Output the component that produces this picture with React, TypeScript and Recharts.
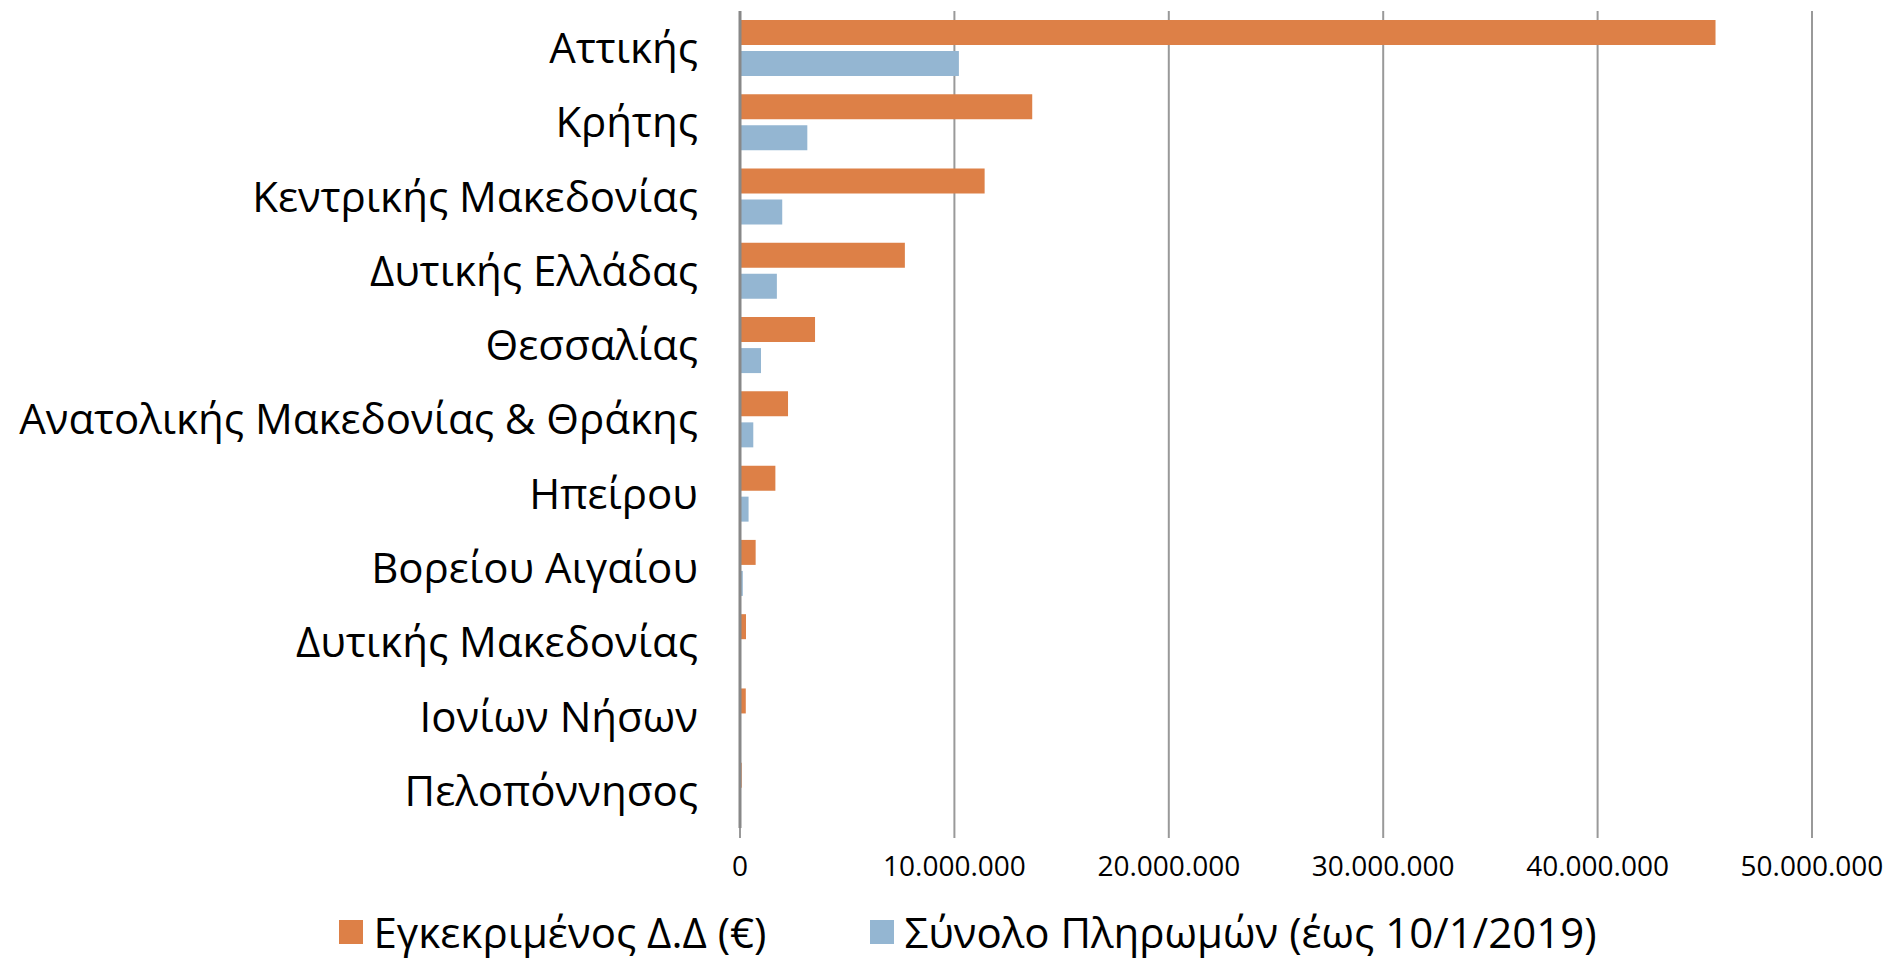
import React from "react";
import {
  BarChart,
  Bar,
  XAxis,
  YAxis,
  CartesianGrid,
  Legend,
} from "recharts";

// Regions, top to bottom
const regions = [
  "Αττικής",
  "Κρήτης",
  "Κεντρικής Μακεδονίας",
  "Δυτικής Ελλάδας",
  "Θεσσαλίας",
  "Ανατολικής Μακεδονίας & Θράκης",
  "Ηπείρου",
  "Βορείου Αιγαίου",
  "Δυτικής Μακεδονίας",
  "Ιονίων Νήσων",
  "Πελοπόννησος",
];

// Approved budget (€)
const approved = [
  45500000, 13630000, 11410000, 7690000, 3500000, 2240000, 1650000, 730000,
  280000, 270000, 80000,
];

// Total payments up to 10/1/2019 (€)
const payments = [
  10210000, 3140000, 1970000, 1720000, 980000, 620000, 400000, 130000, 0, 0,
  0,
];

const xTicks = [0, 10000000, 20000000, 30000000, 40000000, 50000000];

const seriesNames = ["Εγκεκριμένος Δ.Δ (€)", "Σύνολο Πληρωμών (έως 10/1/2019)"];
const seriesColors = ["#DD8047", "#94B6D2"];

const FONT = "'Open Sans', 'Noto Sans', sans-serif";

const data = regions.map((name, i) => ({
  name,
  approved: approved[i],
  payments: payments[i],
}));

// 10000000 -> 10.000.000
const fmt = (v: number) => String(v).replace(/\B(?=(\d{3})+(?!\d))/g, ".");

function LegendContent() {
  return (
    <div
      style={{
        display: "flex",
        justifyContent: "center",
        gap: 104,
        fontFamily: FONT,
        fontSize: 42,
        lineHeight: "56px",
        color: "#000",
        paddingLeft: 124,
        paddingTop: 10,
        whiteSpace: "nowrap",
      }}
    >
      {seriesNames.map((n, i) => (
        <div key={n} style={{ display: "flex", alignItems: "center" }}>
          <span
            style={{
              width: 24,
              height: 24,
              background: seriesColors[i],
              display: "inline-block",
              marginRight: 10,
            }}
          />
          <span>{n}</span>
        </div>
      ))}
    </div>
  );
}

export default function App() {
  return (
    <div
      style={{
        position: "absolute",
        left: 0,
        top: 0,
        background: "#fff",
        overflow: "hidden",
      }}
    >
      <BarChart
        width={1895}
        height={964}
        data={data}
        layout="vertical"
        margin={{ top: 11, right: 83, bottom: 0, left: 0 }}
        barSize={25}
        barGap={6}
      >
        <CartesianGrid horizontal={false} stroke="#999999" strokeWidth={2} />
        <XAxis
          type="number"
          domain={[0, 50000000]}
          ticks={xTicks}
          tickFormatter={fmt}
          axisLine={false}
          tickLine={{ stroke: "#999999", strokeWidth: 2 }}
          tickSize={10}
          tickMargin={18}
          height={66}
          tick={{ fill: "#000", fontSize: 28, fontFamily: FONT }}
        />
        <YAxis
          type="category"
          dataKey="name"
          width={740}
          axisLine={{ stroke: "#888888", strokeWidth: 3 }}
          tickLine={false}
          tickMargin={36}
          interval={0}
          tick={{ fill: "#000", fontSize: 42, fontFamily: FONT }}
        />
        <Legend verticalAlign="bottom" height={70} content={<LegendContent />} />
        <Bar
          dataKey="approved"
          name={seriesNames[0]}
          fill={seriesColors[0]}
          isAnimationActive={false}
        />
        <Bar
          dataKey="payments"
          name={seriesNames[1]}
          fill={seriesColors[1]}
          isAnimationActive={false}
        />
      </BarChart>
    </div>
  );
}
